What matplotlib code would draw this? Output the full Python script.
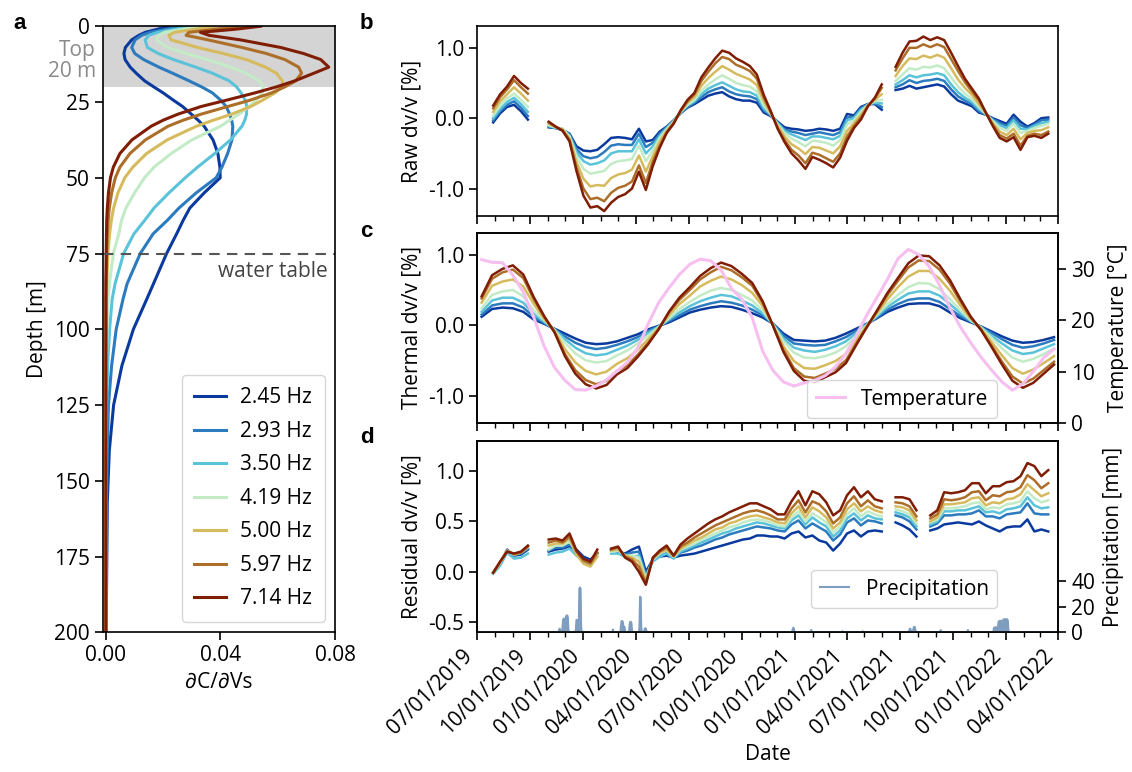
import numpy as np
import matplotlib
matplotlib.use('Agg')
import matplotlib.pyplot as plt
import matplotlib.dates as mdates
import matplotlib.transforms as mtransforms
from matplotlib.ticker import FormatStrFormatter

nan = np.nan

# ---- panel a: sensitivity kernels ----
freq_labels = ['2.45 Hz', '2.93 Hz', '3.50 Hz', '4.19 Hz', '5.00 Hz', '5.97 Hz', '7.14 Hz']
colors = ['#0b3a9f', '#2c7bbf', '#5bc3d9', '#c2ebc6', '#d6bb5e', '#ad6e29', '#801d05']

depth = [0, 1, 2, 3, 4.5, 7, 9, 11, 13.5, 15.5, 18, 20, 22, 24.5, 26.5, 29, 31, 33, 37.5, 42,
         46.5, 50, 55, 60, 64, 68.5, 75, 85, 90, 100, 112, 125, 140, 157, 200]
k245 = [0.022, 0.018, 0.0138, 0.0115, 0.009, 0.0068, 0.0063, 0.0067, 0.0085, 0.0106, 0.0135, 0.0167,
        0.020, 0.0237, 0.0268, 0.0298, 0.0322, 0.0343, 0.0374, 0.0391, 0.0398, 0.0399, 0.0343, 0.0293,
        0.027, 0.0247, 0.0212, 0.0166, 0.0143, 0.0096, 0.0056, 0.0027, 0.0012, 0.0005, 0.0001]
k293 = [0.026, 0.021, 0.0155, 0.0125, 0.0102, 0.009, 0.0101, 0.0132, 0.0185, 0.0233, 0.029, 0.0334,
        0.0372, 0.0402, 0.042, 0.0432, 0.0439, 0.0443, 0.044, 0.0425, 0.0405, 0.0385, 0.0315, 0.0255,
        0.0215, 0.0165, 0.0120, 0.0074, 0.0060, 0.0036, 0.0020, 0.0009, 0.0005, 0.0002, 0.0]
k350 = [0.030, 0.024, 0.018, 0.015, 0.0137, 0.0145, 0.0183, 0.0236, 0.0314, 0.0372, 0.043, 0.0456,
        0.0472, 0.0487, 0.0492, 0.0491, 0.0485, 0.0475, 0.0435, 0.038, 0.032, 0.0277, 0.0220, 0.0168,
        0.0136, 0.0098, 0.0062, 0.0032, 0.0022, 0.0013, 0.0006, 0.0003, 0.0001, 0.0, 0.0]
k419 = [0.034, 0.027, 0.0205, 0.0185, 0.0177, 0.0215, 0.028, 0.0355, 0.0435, 0.049, 0.0535, 0.0549,
        0.0546, 0.0524, 0.0500, 0.0465, 0.0432, 0.040, 0.0300, 0.0228, 0.0168, 0.0135, 0.0100, 0.0070,
        0.0055, 0.0045, 0.0026, 0.0012, 0.0008, 0.0004, 0.0002, 0.0001, 0.0, 0.0, 0.0]
k500 = [0.038, 0.031, 0.024, 0.022, 0.0228, 0.032, 0.041, 0.049, 0.0557, 0.0595, 0.0616, 0.0616,
        0.059, 0.0545, 0.0505, 0.044, 0.0375, 0.0316, 0.0214, 0.0142, 0.0094, 0.0066, 0.0042, 0.0027,
        0.0019, 0.0013, 0.0007, 0.0003, 0.0002, 0.0001, 0.0, 0.0, 0.0, 0.0, 0.0]
k597 = [0.046, 0.038, 0.029, 0.028, 0.0357, 0.0475, 0.056, 0.0625, 0.0673, 0.0683, 0.0663, 0.0625,
        0.0578, 0.050, 0.0425, 0.0333, 0.027, 0.0217, 0.0138, 0.0084, 0.0049, 0.0033, 0.002, 0.0012,
        0.0008, 0.0005, 0.0003, 0.0001, 0.0, 0.0, 0.0, 0.0, 0.0, 0.0, 0.0]
k714 = [0.054, 0.045, 0.033, 0.036, 0.047, 0.061, 0.069, 0.075, 0.0778, 0.0726, 0.066, 0.0596,
        0.052, 0.0417, 0.0332, 0.0252, 0.020, 0.0158, 0.0091, 0.0049, 0.0026, 0.0016, 0.0009, 0.0005,
        0.0003, 0.0002, 0.0001, 0.0, 0.0, 0.0, 0.0, 0.0, 0.0, 0.0, 0.0]

# ---- panel b: raw dv/v (%), sampled every 12 days from 2019-07-29 ----
raw_245 = [-0.06, 0.07, 0.16, 0.19, 0.10, -0.02, nan, nan,
           -0.13, -0.14, -0.17, -0.22, -0.40, -0.46, -0.47, -0.45,
           -0.37, -0.28, -0.27, -0.28, -0.30, -0.15, -0.33, -0.31, -0.19, -0.12,
           -0.03, 0.07, 0.15, 0.20, 0.26, 0.32, 0.35, 0.37, 0.31, 0.27,
           0.25, 0.25, 0.22, 0.08, 0.03, -0.05, -0.13, -0.15, -0.16, -0.18,
           -0.17, -0.15, -0.16, -0.18, -0.15, 0.06, 0.04, 0.16, 0.20, 0.20, 0.12, nan,
           0.40, 0.42, 0.46, 0.42, 0.44, 0.46, 0.48, 0.45, 0.34, 0.25,
           0.21, 0.17, 0.08, 0.05, 0.00, -0.04, -0.08, 0.05, -0.05, -0.12, -0.07, 0.00, 0.01]
raw_293 = [-0.03, 0.10, 0.19, 0.24, 0.15, 0.03, nan, nan,
           -0.12, -0.14, -0.16, -0.23, -0.44, -0.54, -0.57, -0.55,
           -0.48, -0.39, -0.37, -0.38, -0.38, -0.22, -0.41, -0.35, -0.22, -0.13,
           -0.04, 0.07, 0.16, 0.22, 0.30, 0.37, 0.41, 0.44, 0.38, 0.34,
           0.32, 0.31, 0.27, 0.11, 0.04, -0.06, -0.16, -0.19, -0.21, -0.24,
           -0.22, -0.20, -0.22, -0.24, -0.20, 0.01, 0.02, 0.14, 0.20, 0.21, 0.16, nan,
           0.44, 0.48, 0.54, 0.50, 0.53, 0.54, 0.56, 0.53, 0.41, 0.31,
           0.25, 0.20, 0.10, 0.05, -0.01, -0.07, -0.11, 0.01, -0.10, -0.14, -0.09, -0.03, -0.02]
raw_350 = [0.00, 0.13, 0.23, 0.29, 0.20, 0.09, nan, nan,
           -0.11, -0.14, -0.15, -0.25, -0.48, -0.61, -0.66, -0.64,
           -0.60, -0.50, -0.47, -0.47, -0.47, -0.30, -0.50, -0.40, -0.25, -0.14,
           -0.04, 0.08, 0.18, 0.24, 0.34, 0.42, 0.47, 0.51, 0.46, 0.41,
           0.38, 0.37, 0.32, 0.14, 0.05, -0.07, -0.18, -0.23, -0.27, -0.31,
           -0.26, -0.26, -0.28, -0.30, -0.25, -0.03, 0.00, 0.12, 0.19, 0.22, 0.21, nan,
           0.48, 0.54, 0.61, 0.58, 0.61, 0.62, 0.64, 0.61, 0.48, 0.37,
           0.29, 0.23, 0.13, 0.06, -0.03, -0.10, -0.14, -0.03, -0.15, -0.16, -0.11, -0.07, -0.05]
raw_419 = [0.04, 0.18, 0.28, 0.35, 0.26, 0.16, nan, nan,
           -0.10, -0.13, -0.15, -0.26, -0.54, -0.72, -0.79, -0.77,
           -0.75, -0.65, -0.61, -0.60, -0.58, -0.39, -0.61, -0.46, -0.28, -0.16,
           -0.05, 0.09, 0.19, 0.26, 0.39, 0.48, 0.55, 0.61, 0.56, 0.50,
           0.47, 0.45, 0.38, 0.18, 0.06, -0.09, -0.21, -0.29, -0.34, -0.40,
           -0.32, -0.33, -0.35, -0.39, -0.31, -0.09, -0.03, 0.09, 0.19, 0.24, 0.26, nan,
           0.53, 0.62, 0.71, 0.69, 0.73, 0.72, 0.75, 0.71, 0.58, 0.45,
           0.35, 0.27, 0.16, 0.06, -0.04, -0.14, -0.18, -0.08, -0.21, -0.18, -0.14, -0.11, -0.08]
raw_500 = [0.09, 0.24, 0.34, 0.44, 0.35, 0.25, nan, nan,
           -0.08, -0.13, -0.16, -0.29, -0.62, -0.86, -0.97, -0.95,
           -0.96, -0.85, -0.80, -0.78, -0.73, -0.53, -0.76, -0.54, -0.33, -0.18,
           -0.06, 0.09, 0.22, 0.30, 0.46, 0.57, 0.66, 0.74, 0.69, 0.63,
           0.59, 0.55, 0.47, 0.24, 0.07, -0.11, -0.26, -0.37, -0.43, -0.51,
           -0.41, -0.42, -0.46, -0.50, -0.40, -0.18, -0.07, 0.05, 0.18, 0.26, 0.34, nan,
           0.60, 0.74, 0.85, 0.84, 0.89, 0.86, 0.90, 0.86, 0.71, 0.55,
           0.43, 0.33, 0.20, 0.07, -0.07, -0.19, -0.24, -0.15, -0.30, -0.21, -0.18, -0.17, -0.13]
raw_597 = [0.14, 0.30, 0.41, 0.54, 0.44, 0.35, nan, nan,
           -0.06, -0.12, -0.17, -0.31, -0.70, -1.00, -1.15, -1.13,
           -1.18, -1.06, -0.99, -0.96, -0.90, -0.67, -0.92, -0.62, -0.39, -0.20,
           -0.07, 0.10, 0.24, 0.34, 0.53, 0.66, 0.78, 0.87, 0.84, 0.76,
           0.72, 0.67, 0.56, 0.29, 0.09, -0.14, -0.31, -0.45, -0.53, -0.64,
           -0.49, -0.52, -0.57, -0.62, -0.50, -0.26, -0.11, 0.01, 0.17, 0.28, 0.43, nan,
           0.68, 0.85, 1.00, 1.00, 1.05, 1.01, 1.05, 1.01, 0.84, 0.67,
           0.51, 0.38, 0.25, 0.08, -0.09, -0.24, -0.29, -0.22, -0.39, -0.25, -0.22, -0.24, -0.19]
raw_714 = [0.18, 0.34, 0.45, 0.60, 0.50, 0.42, nan, nan,
           -0.05, -0.12, -0.18, -0.33, -0.75, -1.10, -1.27, -1.25,
           -1.32, -1.20, -1.12, -1.08, -1.00, -0.76, -1.02, -0.68, -0.42, -0.21,
           -0.08, 0.11, 0.26, 0.36, 0.58, 0.72, 0.85, 0.96, 0.93, 0.85,
           0.80, 0.74, 0.62, 0.33, 0.10, -0.15, -0.34, -0.50, -0.60, -0.72,
           -0.55, -0.59, -0.64, -0.70, -0.56, -0.32, -0.14, -0.02, 0.17, 0.29, 0.48, nan,
           0.73, 0.93, 1.09, 1.10, 1.16, 1.11, 1.15, 1.11, 0.93, 0.74,
           0.56, 0.42, 0.28, 0.08, -0.11, -0.28, -0.33, -0.27, -0.45, -0.27, -0.25, -0.28, -0.22]

# ---- panel c: thermal dv/v (%) and temperature, every 18 days from 2019-07-09 ----
th_245 = [0.12, 0.23, 0.25, 0.24, 0.19, 0.08, 0.02, -0.05, -0.12, -0.19,
          -0.25, -0.27, -0.26, -0.23, -0.18, -0.13, -0.06, -0.01, 0.04, 0.11,
          0.18, 0.22, 0.25, 0.27, 0.26, 0.22, 0.17, 0.11, 0.02, -0.12,
          -0.21, -0.22, -0.23, -0.22, -0.18, -0.12, -0.05, 0.02, 0.10, 0.19,
          0.25, 0.30, 0.31, 0.31, 0.27, 0.18, 0.10, 0.04, -0.02, -0.09,
          -0.16, -0.22, -0.25, -0.24, -0.21, -0.17]
th_293 = [0.15, 0.28, 0.31, 0.31, 0.25, 0.12, 0.03, -0.06, -0.16, -0.25,
          -0.31, -0.34, -0.32, -0.28, -0.23, -0.17, -0.08, -0.02, 0.06, 0.14,
          0.22, 0.27, 0.31, 0.34, 0.32, 0.28, 0.22, 0.14, 0.02, -0.15,
          -0.26, -0.28, -0.29, -0.28, -0.23, -0.17, -0.08, 0.01, 0.11, 0.22,
          0.30, 0.36, 0.38, 0.38, 0.33, 0.23, 0.13, 0.05, -0.03, -0.11,
          -0.20, -0.28, -0.32, -0.30, -0.26, -0.21]
th_350 = [0.19, 0.35, 0.39, 0.39, 0.32, 0.16, 0.05, -0.06, -0.20, -0.32,
          -0.40, -0.43, -0.41, -0.35, -0.29, -0.21, -0.11, -0.02, 0.08, 0.18,
          0.27, 0.34, 0.39, 0.43, 0.41, 0.35, 0.28, 0.17, 0.01, -0.19,
          -0.32, -0.36, -0.38, -0.35, -0.30, -0.23, -0.11, 0.01, 0.13, 0.26,
          0.36, 0.45, 0.48, 0.48, 0.42, 0.30, 0.17, 0.06, -0.03, -0.15,
          -0.26, -0.36, -0.41, -0.39, -0.33, -0.27]
th_419 = [0.24, 0.43, 0.48, 0.50, 0.41, 0.21, 0.07, -0.07, -0.25, -0.40,
          -0.50, -0.53, -0.51, -0.43, -0.36, -0.26, -0.15, -0.03, 0.10, 0.23,
          0.33, 0.42, 0.49, 0.53, 0.50, 0.43, 0.35, 0.21, 0.01, -0.23,
          -0.39, -0.46, -0.47, -0.44, -0.39, -0.30, -0.15, 0.00, 0.15, 0.30,
          0.43, 0.54, 0.60, 0.59, 0.51, 0.37, 0.21, 0.07, -0.04, -0.18,
          -0.33, -0.46, -0.52, -0.48, -0.41, -0.33]
th_500 = [0.32, 0.56, 0.62, 0.65, 0.55, 0.30, 0.09, -0.08, -0.34, -0.53,
          -0.65, -0.70, -0.66, -0.55, -0.47, -0.35, -0.20, -0.04, 0.14, 0.30,
          0.42, 0.55, 0.63, 0.69, 0.65, 0.57, 0.46, 0.27, 0.00, -0.30,
          -0.51, -0.61, -0.62, -0.57, -0.51, -0.41, -0.21, -0.01, 0.17, 0.37,
          0.54, 0.69, 0.77, 0.77, 0.66, 0.49, 0.28, 0.09, -0.05, -0.24,
          -0.43, -0.61, -0.69, -0.63, -0.54, -0.44]
th_597 = [0.38, 0.66, 0.75, 0.79, 0.67, 0.37, 0.12, -0.10, -0.41, -0.64,
          -0.78, -0.84, -0.79, -0.65, -0.57, -0.42, -0.25, -0.06, 0.18, 0.36,
          0.50, 0.65, 0.75, 0.83, 0.78, 0.68, 0.56, 0.32, -0.01, -0.35,
          -0.61, -0.73, -0.75, -0.69, -0.62, -0.50, -0.26, -0.03, 0.20, 0.43,
          0.63, 0.82, 0.92, 0.91, 0.79, 0.59, 0.34, 0.11, -0.07, -0.29,
          -0.52, -0.73, -0.83, -0.76, -0.64, -0.52]
th_714 = [0.41, 0.71, 0.80, 0.85, 0.72, 0.40, 0.13, -0.10, -0.44, -0.69,
          -0.84, -0.90, -0.85, -0.70, -0.61, -0.45, -0.27, -0.06, 0.19, 0.39,
          0.54, 0.70, 0.81, 0.89, 0.84, 0.73, 0.60, 0.34, -0.01, -0.38,
          -0.65, -0.79, -0.81, -0.74, -0.67, -0.54, -0.28, -0.03, 0.21, 0.46,
          0.67, 0.88, 0.99, 0.98, 0.85, 0.64, 0.37, 0.12, -0.07, -0.31,
          -0.56, -0.79, -0.89, -0.82, -0.69, -0.56]
temperature = [31.8, 31.3, 31.2, 28.8, 25.5, 20.6, 15.0, 10.8, 8.3, 6.5,
               6.4, 7.2, 8.4, 10.1, 11.8, 14.6, 19.3, 23.4, 26.3, 28.9,
               30.9, 31.9, 31.6, 29.8, 26.2, 24.1, 20.5, 14.0, 10.2, 8.0,
               7.2, 7.8, 8.3, 9.2, 10.9, 13.5, 17.0, 21.0, 24.5, 28.0,
               32.0, 33.8, 32.8, 30.5, 26.8, 22.4, 18.7, 15.6, 12.8, 10.3,
               8.0, 6.4, 7.6, 10.0, 12.7, 14.4]

# ---- panel d: residual dv/v (%), same dates as panel b ----
res_245 = [-0.01, 0.08, 0.22, 0.16, 0.17, 0.22, nan, nan,
           0.20, 0.22, 0.23, 0.25, 0.22, 0.15, 0.12, 0.18, nan,
           0.22, 0.20, 0.18, 0.22, 0.25, 0.00, 0.12, 0.15, 0.16,
           0.14, 0.16, 0.17, 0.18, 0.20, 0.22, 0.24, 0.26, 0.28, 0.30,
           0.32, 0.33, 0.36, 0.36, 0.35, 0.35, 0.33, 0.38, 0.40, 0.34,
           0.36, 0.31, 0.29, 0.21, 0.28, 0.38, 0.41, 0.35, 0.40, 0.41, 0.40, nan,
           0.49, 0.46, 0.42, 0.35, nan,
           0.41, 0.43, 0.47, 0.48, 0.49, 0.48, 0.47, 0.50, 0.46, 0.43, 0.40, 0.44, 0.45, 0.45, 0.52, 0.40, 0.42, 0.40]
res_293 = [-0.01, 0.09, 0.21, 0.17, 0.18, 0.23, nan, nan,
           0.21, 0.24, 0.24, 0.27, 0.20, 0.13, 0.10, 0.18, nan,
           0.21, 0.21, 0.17, 0.19, 0.20, -0.03, 0.12, 0.17, 0.19,
           0.14, 0.19, 0.21, 0.24, 0.26, 0.29, 0.32, 0.34, 0.37, 0.39,
           0.41, 0.43, 0.45, 0.44, 0.43, 0.41, 0.40, 0.47, 0.51, 0.43,
           0.48, 0.44, 0.40, 0.31, 0.37, 0.49, 0.53, 0.46, 0.51, 0.50, 0.48, nan,
           0.56, 0.54, 0.50, 0.42, nan,
           0.45, 0.48, 0.56, 0.56, 0.57, 0.57, 0.58, 0.61, 0.55, 0.55, 0.53, 0.57, 0.58, 0.59, 0.68, 0.58, 0.57, 0.57]
res_350 = [-0.02, 0.06, 0.19, 0.13, 0.14, 0.18, nan, nan,
           0.17, 0.19, 0.20, 0.23, 0.16, 0.10, 0.07, 0.15, nan,
           0.18, 0.18, 0.15, 0.15, 0.16, -0.05, 0.10, 0.15, 0.18,
           0.13, 0.20, 0.23, 0.26, 0.29, 0.32, 0.35, 0.38, 0.40, 0.43,
           0.45, 0.47, 0.49, 0.48, 0.46, 0.44, 0.43, 0.51, 0.56, 0.47,
           0.54, 0.49, 0.45, 0.35, 0.41, 0.53, 0.58, 0.51, 0.56, 0.53, 0.52, nan,
           0.59, 0.57, 0.54, 0.45, nan,
           0.47, 0.50, 0.60, 0.60, 0.61, 0.61, 0.63, 0.65, 0.59, 0.60, 0.58, 0.62, 0.63, 0.65, 0.74, 0.66, 0.63, 0.64]
res_419 = [-0.01, 0.09, 0.21, 0.17, 0.19, 0.24, nan, nan,
           0.22, 0.26, 0.26, 0.30, 0.19, 0.11, 0.08, 0.17, nan,
           0.20, 0.21, 0.16, 0.16, 0.14, -0.07, 0.12, 0.18, 0.21,
           0.15, 0.22, 0.25, 0.28, 0.32, 0.35, 0.38, 0.41, 0.44, 0.46,
           0.49, 0.51, 0.52, 0.51, 0.49, 0.46, 0.45, 0.54, 0.60, 0.50,
           0.58, 0.54, 0.49, 0.39, 0.45, 0.57, 0.63, 0.55, 0.60, 0.57, 0.55, nan,
           0.62, 0.60, 0.57, 0.48, nan,
           0.49, 0.52, 0.63, 0.63, 0.64, 0.65, 0.68, 0.69, 0.62, 0.64, 0.63, 0.67, 0.68, 0.70, 0.80, 0.73, 0.69, 0.71]
res_500 = [-0.01, 0.09, 0.21, 0.17, 0.19, 0.25, nan, nan,
           0.26, 0.28, 0.28, 0.33, 0.17, 0.08, 0.05, 0.15, nan,
           0.21, 0.22, 0.16, 0.14, 0.10, -0.09, 0.13, 0.19, 0.22,
           0.15, 0.23, 0.27, 0.31, 0.34, 0.38, 0.42, 0.44, 0.48, 0.50,
           0.53, 0.55, 0.56, 0.54, 0.52, 0.49, 0.48, 0.58, 0.65, 0.54,
           0.64, 0.60, 0.54, 0.43, 0.49, 0.62, 0.68, 0.60, 0.65, 0.61, 0.59, nan,
           0.65, 0.64, 0.61, 0.51, nan,
           0.50, 0.54, 0.67, 0.67, 0.68, 0.69, 0.73, 0.74, 0.66, 0.69, 0.68, 0.72, 0.73, 0.77, 0.87, 0.81, 0.75, 0.78]
res_597 = [-0.01, 0.10, 0.20, 0.18, 0.19, 0.25, nan, nan,
           0.29, 0.31, 0.29, 0.35, 0.20, 0.11, 0.08, 0.19, nan,
           0.22, 0.24, 0.15, 0.12, 0.05, -0.11, 0.13, 0.20, 0.24,
           0.16, 0.25, 0.29, 0.34, 0.38, 0.42, 0.46, 0.49, 0.52, 0.55,
           0.58, 0.60, 0.61, 0.59, 0.56, 0.52, 0.52, 0.63, 0.71, 0.59,
           0.70, 0.67, 0.60, 0.48, 0.54, 0.68, 0.75, 0.65, 0.71, 0.65, 0.63, nan,
           0.69, 0.68, 0.65, 0.55, nan,
           0.53, 0.57, 0.72, 0.71, 0.72, 0.74, 0.79, 0.80, 0.71, 0.76, 0.75, 0.79, 0.80, 0.84, 0.96, 0.91, 0.83, 0.88]
res_714 = [-0.01, 0.10, 0.20, 0.18, 0.20, 0.26, nan, nan,
           0.32, 0.33, 0.31, 0.38, 0.21, 0.13, 0.10, 0.22, nan,
           0.23, 0.25, 0.14, 0.10, 0.00, -0.13, 0.14, 0.21, 0.26,
           0.16, 0.27, 0.33, 0.38, 0.43, 0.48, 0.52, 0.55, 0.59, 0.62,
           0.65, 0.68, 0.68, 0.65, 0.62, 0.57, 0.57, 0.70, 0.80, 0.66,
           0.80, 0.77, 0.69, 0.56, 0.61, 0.76, 0.84, 0.74, 0.80, 0.72, 0.70, nan,
           0.74, 0.74, 0.72, 0.61, nan,
           0.56, 0.61, 0.79, 0.78, 0.79, 0.81, 0.88, 0.88, 0.78, 0.85, 0.85, 0.89, 0.90, 0.95, 1.08, 1.05, 0.95, 1.01]

# daily precipitation (mm), only rainy days listed
rain_dates = ['2019-11-20', '2019-11-21', '2019-11-22',
              '2019-11-26', '2019-11-27', '2019-11-28', '2019-11-29', '2019-11-30',
              '2019-12-01', '2019-12-02', '2019-12-03', '2019-12-04', '2019-12-05', '2019-12-06',
              '2019-12-19', '2019-12-20', '2019-12-21', '2019-12-22', '2019-12-24',
              '2019-12-25', '2019-12-26', '2019-12-27', '2019-12-28',
              '2020-02-21',
              '2020-03-06', '2020-03-07', '2020-03-08', '2020-03-09', '2020-03-10', '2020-03-11',
              '2020-03-12', '2020-03-13',
              '2020-03-21', '2020-03-22', '2020-03-23', '2020-03-24', '2020-03-25',
              '2020-04-07', '2020-04-08', '2020-04-09', '2020-04-10',
              '2020-04-16', '2020-04-17', '2020-04-18', '2020-04-19',
              '2020-12-28', '2020-12-29', '2020-12-30', '2021-01-29', '2021-03-24', '2021-04-28',
              '2021-07-18', '2021-07-19', '2021-07-20', '2021-07-25', '2021-07-26', '2021-07-27',
              '2021-07-28', '2021-09-10', '2021-10-27',
              '2021-12-11', '2021-12-12', '2021-12-13', '2021-12-14', '2021-12-15', '2021-12-16',
              '2021-12-17', '2021-12-18', '2021-12-19', '2021-12-20', '2021-12-21', '2021-12-22',
              '2021-12-23', '2021-12-24', '2021-12-25', '2021-12-26', '2021-12-27', '2021-12-28',
              '2021-12-29', '2021-12-30', '2021-12-31', '2022-01-01', '2022-01-02', '2022-01-03',
              '2022-01-04', '2022-01-05']
rain_mm = [1.5, 2.6, 1.0,
           4.0, 10.0, 10.5, 9.0, 8.0,
           10.0, 12.0, 13.0, 13.0, 12.0, 2.0,
           2.0, 9.5, 9.5, 8.0, 6.0,
           34.0, 35.0, 34.0, 4.0,
           2.0,
           5.0, 8.5, 8.7, 8.0, 5.0, 4.0,
           4.0, 1.0,
           6.0, 8.0, 8.0, 7.0, 1.0,
           4.0, 27.7, 27.0, 4.0,
           2.5, 3.0, 2.5, 1.0,
           2.0, 3.4, 2.5, 1.6, 0.6, 0.6,
           2.0, 2.7, 2.0, 3.0, 4.0, 4.0,
           2.0, 1.5, 1.5,
           3.0, 3.5, 3.7, 3.7, 3.7, 3.5,
           3.5, 3.5, 8.0, 8.5, 8.7, 8.7,
           8.7, 8.7, 8.5, 8.5, 9.5, 10.0,
           10.0, 10.0, 10.0, 10.0, 10.0, 10.0,
           9.0, 2.0]

raw_series = [raw_245, raw_293, raw_350, raw_419, raw_500, raw_597, raw_714]
th_series = [th_245, th_293, th_350, th_419, th_500, th_597, th_714]
res_series = [res_245, res_293, res_350, res_419, res_500, res_597, res_714]
kernels = [k245, k293, k350, k419, k500, k597, k714]

dates_bd = np.arange(np.datetime64('2019-07-29'), np.datetime64('2022-03-17'), np.timedelta64(12, 'D'))
dates_c = np.arange(np.datetime64('2019-07-09'), np.datetime64('2022-03-27'), np.timedelta64(18, 'D'))
days = np.arange(np.datetime64('2019-07-01'), np.datetime64('2022-04-02'))
precip = np.zeros(len(days))
idx = (np.array(rain_dates, dtype='datetime64[D]') - days[0]).astype(int)
precip[idx] = rain_mm

# ---- style ----
plt.rcParams['font.family'] = ['Open Sans', 'DejaVu Sans']
plt.rcParams['font.size'] = 15
plt.rcParams['axes.unicode_minus'] = False
plt.rcParams['axes.linewidth'] = 1.2
plt.rcParams['xtick.major.size'] = 6
plt.rcParams['ytick.major.size'] = 6
plt.rcParams['xtick.minor.size'] = 3.5
plt.rcParams['xtick.major.width'] = 1.2
plt.rcParams['ytick.major.width'] = 1.2
plt.rcParams['xtick.minor.width'] = 1.0
plt.rcParams['legend.edgecolor'] = '#cccccc'

fig = plt.figure(figsize=(11.32, 7.72), dpi=100)
ax_a = fig.add_axes([0.091, 0.181, 0.205, 0.785])
ax_b = fig.add_axes([0.4214, 0.7202, 0.5133, 0.2461])
ax_c = fig.add_axes([0.4214, 0.4521, 0.5133, 0.2461], sharex=ax_b)
ax_d = fig.add_axes([0.4214, 0.1813, 0.5133, 0.2475], sharex=ax_b)

# panel a
ax_a.axhspan(0, 20, color='#d4d4d4', lw=0, zorder=0)
for kern, col, lab in zip(kernels, colors, freq_labels):
    ax_a.plot(kern, depth, color=col, lw=2.2, label=lab)
ax_a.axhline(75, color='#555555', lw=1.5, ls=(0, (5, 3.5)))
trans = mtransforms.blended_transform_factory(ax_a.transAxes, ax_a.transData)
ax_a.text(0.97, 77.5, 'water table', transform=trans, ha='right', va='top', color='#444444')
ax_a.text(-0.03, 11.5, 'Top\n20 m', transform=trans, ha='right', va='center', color='#8a8a8a',
          linespacing=0.95)
ax_a.set_xlim(-0.001, 0.08)
ax_a.set_ylim(200, 0)
ax_a.set_xticks([0, 0.04, 0.08])
ax_a.set_yticks(np.arange(0, 201, 25))
ax_a.xaxis.set_major_formatter(FormatStrFormatter('%.2f'))
ax_a.set_xlabel('∂C/∂Vs')
ax_a.set_ylabel('Depth [m]')
ax_a.legend(loc='lower right', handlelength=1.5, handletextpad=0.7, labelspacing=0.6,
            borderpad=0.6, fancybox=True)

# panel b
for vals, col in zip(raw_series, colors):
    ax_b.plot(dates_bd, vals, color=col, lw=1.8)
ax_b.set_ylim(-1.39, 1.31)
ax_b.set_yticks([-1, 0, 1])
ax_b.yaxis.set_major_formatter(FormatStrFormatter('%.1f'))
ax_b.set_ylabel('Raw dv/v [%]')
ax_b.tick_params(labelbottom=False)

# panel c
for vals, col in zip(th_series, colors):
    ax_c.plot(dates_c, vals, color=col, lw=1.8)
ax_c.set_ylim(-1.39, 1.31)
ax_c.set_yticks([-1, 0, 1])
ax_c.yaxis.set_major_formatter(FormatStrFormatter('%.1f'))
ax_c.set_ylabel('Thermal dv/v [%]')
ax_c.tick_params(labelbottom=False)
ax_ct = ax_c.twinx()
ax_ct.plot(dates_c, temperature, color='#f6bff0', lw=2.2, label='Temperature')
ax_ct.set_ylim(0, 37)
ax_ct.set_yticks([0, 10, 20, 30])
ax_ct.set_ylabel('Temperature [°C]', labelpad=9)
ax_ct.legend(loc='lower right', bbox_to_anchor=(0.895, 0.026), borderaxespad=0, handlelength=1.4)

# panel d
for vals, col in zip(res_series, colors):
    ax_d.plot(dates_bd, vals, color=col, lw=1.8)
ax_d.set_ylim(-0.6, 1.3)
ax_d.set_yticks([-0.5, 0, 0.5, 1.0])
ax_d.yaxis.set_major_formatter(FormatStrFormatter('%.1f'))
ax_d.set_ylabel('Residual dv/v [%]')
ax_dt = ax_d.twinx()
ax_dt.fill_between(days, precip, color='#7f9dbf', lw=0)
ax_dt.plot(days, precip, color='#7f9dbf', lw=1.5, label='Precipitation')
ax_dt.set_ylim(0, 150)
ax_dt.set_yticks([0, 20, 40])
ax_dt.set_ylabel('Precipitation [mm]', labelpad=6)
ax_dt.legend(loc='lower right', bbox_to_anchor=(0.895, 0.126), borderaxespad=0, handlelength=1.4)

ax_d.set_xlim(np.datetime64('2019-07-01'), np.datetime64('2022-04-01'))
ax_d.xaxis.set_major_locator(mdates.MonthLocator(bymonth=[1, 4, 7, 10]))
ax_d.xaxis.set_minor_locator(mdates.MonthLocator())
ax_d.xaxis.set_major_formatter(mdates.DateFormatter('%m/%d/%Y'))
plt.setp(ax_d.get_xticklabels(), rotation=45, ha='right')
ax_d.set_xlabel('Date')

for lab, y in zip(['a', 'b', 'c', 'd'], [0.9624, 0.9624, 0.693, 0.426]):
    x = 0.0115 if lab == 'a' else 0.318
    fig.text(x, y, lab, fontsize=16, fontweight='bold', family='Liberation Sans', va='baseline')

fig.savefig('out.png', dpi=100)
